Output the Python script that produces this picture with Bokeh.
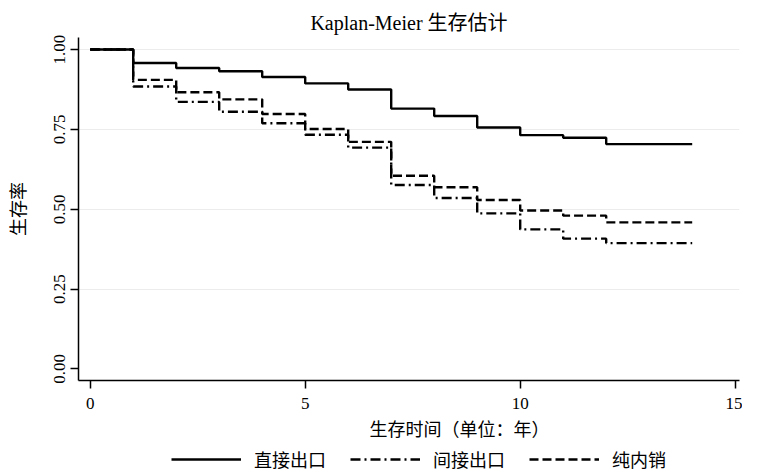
from bokeh.plotting import figure
from bokeh.models import Legend, LegendItem, FixedTicker, Title, Range1d
from bokeh.layouts import column
from bokeh.embed import file_html
from bokeh.resources import INLINE

# ---- data ----
times = [0, 1, 2, 3, 4, 5, 6, 7, 8, 9, 10, 11, 12]
end_time = 14
direct_export = [1.0, 0.958, 0.942, 0.932, 0.914, 0.894, 0.875, 0.815, 0.792, 0.756, 0.732, 0.724, 0.704]
indirect_export = [1.0, 0.884, 0.836, 0.805, 0.769, 0.733, 0.693, 0.576, 0.535, 0.487, 0.437, 0.408, 0.394]
domestic_only = [1.0, 0.905, 0.866, 0.844, 0.798, 0.751, 0.711, 0.605, 0.569, 0.529, 0.496, 0.480, 0.459]
series_names = ["直接出口", "间接出口", "纯内销"]
x_ticks = [0, 5, 10, 15]
y_ticks = [0.0, 0.25, 0.5, 0.75, 1.0]
y_tick_labels = ["0.00", "0.25", "0.50", "0.75", "1.00"]
title_text = "Kaplan-Meier 生存估计"
x_label = "生存时间（单位：年）"
y_label = "生存率"

SERIF = "Liberation Serif, Noto Sans CJK SC"
CJK = "Noto Sans CJK SC"
DASHES = ["solid", "10 4 2 4", "9 4"]
SERIES = [direct_export, indirect_export, domestic_only]
LW = 2.4

p = figure(width=742, height=446, output_backend="svg", toolbar_location=None,
           x_range=Range1d(-0.272, 15.10), y_range=Range1d(-0.036, 1.0376),
           min_border_left=72, min_border_right=3, min_border_top=37,
           min_border_bottom=66)

p.title.text = title_text
p.title.align = "center"
p.title.text_font = SERIF
p.title.text_font_size = "20px"
p.title.text_font_style = "normal"
p.title.text_color = "black"
p.title.standoff = 7

p.outline_line_color = None
p.background_fill_color = "white"
p.border_fill_color = "white"

xs = times + [end_time]
for vals, dash in zip(SERIES, DASHES):
    p.step(xs, vals + [vals[-1]], mode="after", line_color="black",
           line_width=LW, line_dash=dash)

# axes
for ax in (p.xaxis, p.yaxis):
    ax.axis_line_width = 1.5
    ax.axis_line_color = "black"
    ax.major_tick_line_width = 1.5
    ax.major_tick_line_color = "black"
    ax.major_tick_out = 8
    ax.major_tick_in = 0
    ax.minor_tick_line_color = None
    ax.major_label_text_font = SERIF
    ax.major_label_text_font_size = "17px"
    ax.major_label_text_color = "black"

p.xaxis.ticker = FixedTicker(ticks=x_ticks)
p.xaxis.major_label_standoff = 9

p.yaxis.ticker = FixedTicker(ticks=y_ticks)
p.yaxis.major_label_overrides = {t: l for t, l in zip(y_ticks, y_tick_labels)}
p.yaxis.major_label_orientation = "vertical"
p.yaxis.major_label_standoff = 5
p.yaxis.axis_label = y_label
p.yaxis.axis_label_text_font = CJK
p.yaxis.axis_label_text_font_size = "18px"
p.yaxis.axis_label_text_font_style = "normal"
p.yaxis.axis_label_text_color = "black"
p.yaxis.axis_label_standoff = 22

p.xgrid.visible = False
p.ygrid.ticker = FixedTicker(ticks=y_ticks[1:])
p.ygrid.grid_line_color = "#ececec"
p.ygrid.grid_line_width = 1

# x axis title (offset to match reference placement)
xt = Title(text=x_label, align="left", offset=291, text_font=CJK,
           text_font_size="18px", text_font_style="normal",
           text_color="black", standoff=2)
p.add_layout(xt, "below")

# ---- legend strip below the chart (same series; its view range shows no marks) ----
pl = figure(width=742, height=26, output_backend="svg", toolbar_location=None,
            x_axis_type=None, y_axis_type=None, min_border=0,
            x_range=Range1d(0, 15), y_range=Range1d(2, 3))
pl.outline_line_color = None
pl.background_fill_color = "white"
pl.border_fill_color = "white"
items = []
for name, vals, dash in zip(series_names, SERIES, DASHES):
    r = pl.step(xs, vals + [vals[-1]], mode="after", line_color="black",
                line_width=LW, line_dash=dash)
    items.append(LegendItem(label=name, renderers=[r]))

legend = Legend(items=items, orientation="horizontal", location=(93, 0),
                glyph_width=70, glyph_height=18, label_standoff=13, spacing=24,
                padding=0, margin=0, border_line_color=None,
                background_fill_alpha=0,
                label_text_font=CJK, label_text_font_size="18px",
                label_text_color="black", label_height=18)
pl.add_layout(legend, "center")

layout = column(p, pl, spacing=0)
open("out.html", "w").write(file_html(layout, INLINE))
